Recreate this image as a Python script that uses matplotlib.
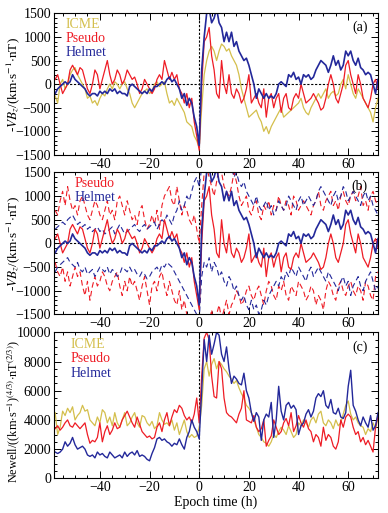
import numpy as np
import matplotlib
matplotlib.use("Agg")
import matplotlib.pyplot as plt
from matplotlib.ticker import MultipleLocator

plt.rcParams["font.family"] = ["Liberation Serif", "DejaVu Serif"]
plt.rcParams["mathtext.fontset"] = "stix"

# epoch hours, -58 .. 72
hours = list(range(-58, 73))

# panel (a): -V*Bz superposed epoch means
vbz_icme = [
    -250, -400, 0, 100, -100, 0, 200, 300, 350, 200,
    100, 0, -100, -300, -250, -400, -350, -450, -300, -200,
    -250, -100, 0, -100, 50, 0, -100, 0, 50, -100,
    -200, -400, -500, -400, -300, -200, -150, -100, -200, -150,
    0, 50, -50, 0, 50, -200, -400, -350, -450, -300,
    -400, -500, -600, -800, -850, -900, -1100, -1200, -1350, -500,
    200, 500, 700, 800, 700, 500, 700, 850, 800, 700,
    750, 600, 500, 400, 200, -100, -300, -500, -700, -650,
    -600, -550, -700, -800, -1000, -900, -1050, -900, -800, -700,
    -600, -500, -700, -650, -600, -550, -500, -450, -400, -300,
    -500, -600, -650, -500, -400, -300, -200, -300, -200, -100,
    -300, -200, -150, -250, -200, 0, 100, -100, 200, 0,
    -200, -300, -100, -200, -300, -400, -500, -600, -800, -500, -300,
]
vbz_pseudo = [
    100, 200, 0, -200, -100, 0, 300, 400, 300, 200,
    350, 300, 100, -100, -200, 0, 300, 200, -100, 100,
    300, 500, 200, 0, 100, 300, 200, 0, 100, 300,
    200, 100, 150, 0, -200, -100, 100, 0, -100, -200,
    -100, 100, 200, 100, 500, 300, 100, 250, 100, 200,
    -100, -200, -400, -200, -500, -300, -800, -1100, -1400, 0,
    900, 1000, 1200, 600, 300, -200, -300, 500, 0, -200,
    200, -200, -300, -100, -200, -400, -300, -100, 200, -400,
    -300, -200, -400, -500, -100, -700, -300, -200, -500, -300,
    -200, -600, -300, -200, -500, -550, -300, -200, -300, 0,
    -200, -400, -350, -300, -200, -300, -400, -550, -500, -300,
    0, 200, 0, -300, -400, -200, 0, 400, 500, 200,
    0, -200, 200, 0, -300, -400, -500, -300, 0, 100, -100,
]
vbz_helmet = [
    -200, -100, -50, 0, 50, 0, 50, 200, 100, 50,
    0, -50, -100, -200, -250, -200, -200, -250, -150, -200,
    -150, -200, -100, -150, -100, -200, -150, -200, -200, -250,
    -50, 0, -50, -100, -150, -200, -150, -200, -100, -150,
    -50, -50, 0, 50, 0, 100, 150, 50, 100, 0,
    -100, -300, -200, -450, -300, -400, -700, -900, -1300, 300,
    1000, 1500, 1600, 1300, 1400, 1600, 1300, 1200, 900, 1100,
    900, 1100, 800, 900, 700, 600, 500, 550, 400, 200,
    0, -300, -100, -200, -300, -200, -300, -250, -300, -200,
    0, 50, 0, -50, 200, 150, 250, 100, 150, 0,
    200, 150, 200, 100, 150, 300, 400, 500, 450, 400,
    250, 400, 600, 400, 500, 300, 400, 700, 600, 700,
    500, 400, 550, 350, 300, 200, 250, 200, 0, -200, 100,
]

# panel (b): mean +/- standard deviation envelopes
pseudo_upper = [
    700, 600, 900, 1100, 800, 1200, 900, 700, 800, 600,
    900, 1000, 800, 600, 500, 700, 900, 800, 600, 500,
    700, 900, 600, 700, 500, 900, 1000, 800, 600, 900,
    700, 500, 600, 400, 700, 800, 500, 300, 400, 600,
    400, 700, 300, 800, 1000, 1100, 1200, 900, 800, 1200,
    900, 600, 800, 700, 500, 400, 600, 300, 0, 800,
    1500, 1600, 1400, 1200, 1000, 1300, 1600, 1500, 1200, 1100,
    1000, 1200, 1500, 1300, 1000, 800, 900, 1000, 700, 600,
    800, 900, 600, 500, 800, 700, 900, 600, 800, 700,
    1000, 800, 700, 900, 800, 600, 1000, 900, 700, 800,
    900, 800, 700, 600, 800, 900, 1100, 800, 700, 900,
    1000, 1100, 800, 900, 700, 1000, 1100, 900, 800, 1000,
    1100, 900, 1000, 1200, 800, 900, 700, 1000, 1100, 900, 800,
]
helmet_upper = [
    300, 350, 400, 450, 400, 500, 550, 600, 500, 400,
    450, 350, 400, 300, 350, 250, 300, 350, 250, 300,
    200, 250, 300, 350, 200, 300, 400, 300, 200, 250,
    300, 350, 400, 300, 250, 350, 400, 300, 350, 400,
    450, 300, 400, 500, 450, 600, 500, 400, 600, 700,
    900, 700, 800, 1000, 900, 1100, 1300, 1400, 1200, 1600,
    1700, 1800, 1800, 1700, 1700, 1800, 1700, 1700, 1600, 1600,
    1500, 1600, 1400, 1500, 1300, 1200, 1300, 1100, 1000, 900,
    800, 1000, 800, 700, 800, 900, 700, 800, 600, 700,
    900, 800, 700, 800, 1000, 900, 800, 700, 900, 1000,
    800, 900, 1000, 900, 800, 900, 1100, 1200, 1100, 1000,
    900, 800, 1000, 1100, 900, 1000, 1200, 1100, 900, 1000,
    1100, 1000, 900, 800, 1000, 1100, 900, 1000, 800, 700, 600,
]
pseudo_lower = [
    -400, -600, -700, -500, -800, -600, -900, -700, -500, -700,
    -600, -900, -1100, -800, -1200, -900, -700, -900, -800, -600,
    -700, -900, -1000, -800, -700, -600, -900, -1100, -800, -1000,
    -700, -900, -800, -1000, -1200, -900, -700, -1000, -1300, -900,
    -800, -1000, -700, -600, -900, -1100, -800, -1000, -1200, -1300,
    -1000, -1400, -1200, -1500, -1600, -1800, -1700, -1800, -1900, -1700,
    -1600, -1500, -1700, -1400, -1800, -1500, -1300, -1600, -1400, -1200,
    -1500, -1300, -1200, -1000, -1100, -1300, -1200, -1000, -900, -1100,
    -1200, -1000, -900, -1100, -1300, -1000, -800, -900, -1100, -1200,
    -900, -1000, -800, -1100, -1200, -900, -1000, -1100, -800, -900,
    -1000, -1200, -1100, -900, -1000, -1300, -1100, -1200, -1400, -1000,
    -800, -900, -1100, -1200, -900, -800, -1000, -1100, -900, -800,
    -1000, -1100, -900, -1000, -1200, -800, -900, -1100, -1200, -700, -600,
]
helmet_lower = [
    -600, -500, -450, -400, -350, -300, -400, -450, -500, -400,
    -550, -600, -500, -650, -600, -550, -700, -600, -500, -550,
    -600, -500, -650, -550, -600, -700, -650, -500, -550, -600,
    -500, -600, -550, -650, -700, -600, -650, -750, -700, -600,
    -550, -500, -600, -450, -500, -400, -450, -500, -600, -700,
    -800, -900, -1000, -1100, -1200, -1300, -1400, -1500, -1600, -700,
    -400, -500, -300, -600, -400, -500, -700, -600, -800, -900,
    -700, -800, -1000, -900, -1100, -1200, -1100, -1300, -1400, -1200,
    -1400, -1300, -1500, -1400, -1200, -1300, -1100, -1000, -900, -800,
    -900, -700, -800, -600, -700, -500, -600, -700, -500, -600,
    -700, -800, -600, -500, -700, -600, -500, -600, -700, -800,
    -600, -700, -800, -900, -1000, -800, -700, -900, -800, -1100,
    -900, -800, -700, -900, -1000, -800, -700, -600, -800, -1000, -900,
]

# panel (c): Newell coupling function
newell_icme = [
    4500, 3000, 3500, 4600, 4300, 4800, 4500, 4900, 4000, 4300,
    4500, 5000, 4600, 4700, 4000, 3800, 3600, 4200, 3800, 4700,
    4500, 3800, 4200, 3600, 4500, 3800, 3500, 4000, 4500, 3600,
    3800, 4200, 4500, 3800, 3500, 4300, 4200, 3800, 3600, 3900,
    3400, 3600, 4500, 4000, 3700, 3800, 3600, 4000, 3300, 3800,
    3000, 3500, 4000, 3200, 2800, 3000, 2800, 2900, 3500, 5000,
    7500, 8000, 7000, 7800, 8200, 7500, 8000, 7800, 7500, 7300,
    7000, 6800, 6500, 6700, 6200, 5800, 5500, 5000, 4800, 4500,
    4000, 3500, 3000, 2800, 2500, 2400, 2200, 2500, 3000, 2800,
    3200, 3500, 3300, 3000, 3600, 3200, 2800, 3000, 3800, 3600,
    4000, 3800, 3500, 4000, 4200, 3800, 4400, 4600, 3800, 3600,
    4000, 3800, 3400, 4000, 3600, 3800, 4400, 5000, 5300, 4400,
    4000, 4200, 3800, 3600, 3500, 3000, 3400, 3200, 3800, 3400, 4200,
]
newell_pseudo = [
    3400, 3600, 3300, 3500, 3800, 4000, 3600, 3500, 3800, 3600,
    3400, 3600, 3800, 3000, 2400, 2600, 2500, 2800, 3800, 2500,
    3200, 3600, 3000, 3300, 3800, 3400, 3500, 4000, 4300, 4600,
    4200, 3800, 3500, 4200, 3700, 3200, 3000, 2800, 2900, 2700,
    2800, 3500, 3800, 3200, 4000, 4500, 3600, 4200, 4700, 4500,
    5000, 4800, 4300, 4000, 4200, 3800, 4400, 5500, 3800, 7000,
    9600, 10000, 9500, 7000, 5600, 5500, 8000, 7500, 5500, 4500,
    4300, 4200, 4000, 3800, 4400, 4800, 6000, 4000, 3900, 3800,
    4300, 3500, 3200, 3400, 4000, 2200, 2600, 2900, 4000, 3500,
    3000, 3200, 3800, 4100, 3600, 4500, 3200, 3600, 4300, 3800,
    3500, 4000, 3400, 3200, 2500, 3000, 2800, 2200, 3500, 2600,
    3000, 2800, 2200, 2000, 2500, 4000, 3500, 4200, 4400, 4200,
    3500, 3000, 3200, 2500, 2800, 2300, 2600, 2200, 1800, 3500, 4300,
]
newell_helmet = [
    1800, 1700, 1800, 2000, 2500, 2200, 2400, 2800, 2300, 2000,
    2100, 2200, 2000, 1600, 1500, 1600, 1400, 1800, 1600, 1700,
    1500, 1400, 1800, 1600, 1400, 1500, 1600, 1400, 1800, 1500,
    1700, 1800, 1600, 1900, 1500, 1600, 1500, 1300, 1200, 1700,
    2100, 2700, 2800, 2600, 2700, 2500, 2400, 2200, 2400, 2300,
    2700, 2300, 2000, 2800, 3200, 4000, 3500, 3200, 2700, 6000,
    9500, 8000, 9800, 8500, 9200, 10000, 9800, 8500, 8000, 9000,
    7500, 6500, 7000, 6800, 6500, 6400, 7200, 6000, 5500, 4500,
    3900, 4500, 4200, 2600, 4000, 4400, 4200, 5200, 2800, 4000,
    6300, 4600, 4000, 5000, 5200, 4800, 5000, 4700, 3000, 3600,
    3800, 4400, 4700, 4200, 4600, 5500, 5800, 5600, 6000, 5000,
    4800, 5400, 4500, 4400, 4800, 4200, 4100, 4500, 6300, 7400,
    5000, 4600, 4000, 3600, 4200, 3800, 3500, 4300, 3300, 3600, 4500,
]

C_ICME = "#d4bf4c"
C_PSEUDO = "#ee1c25"
C_HELMET = "#23289a"

XLIM = (-58.5, 71.8)
LABEL_X = -0.098


def style_axis(ax, ymajor, yminor):
    """Inward ticks on all four sides, like the IDL original."""
    ax.set_xlim(*XLIM)
    ax.xaxis.set_major_locator(MultipleLocator(20))
    ax.xaxis.set_minor_locator(MultipleLocator(5))
    ax.yaxis.set_major_locator(MultipleLocator(ymajor))
    ax.yaxis.set_minor_locator(MultipleLocator(yminor))
    ax.tick_params(which="both", direction="in", top=True, right=True,
                   labelsize=10, pad=2, width=0.7)
    ax.tick_params(which="major", length=5)
    ax.tick_params(which="minor", length=2.5)
    for side in ax.spines.values():
        side.set_linewidth(0.8)
    ax.axvline(0, color="black", ls=(0, (2, 1.5)), lw=0.8, zorder=1)
    ax.yaxis.set_label_coords(LABEL_X, 0.5)


def legend_text(ax, entries, x0=0.035):
    for k, (label, color) in enumerate(entries):
        ax.text(x0, 0.92 - k * 0.1, label, color=color, fontsize=10,
                transform=ax.transAxes, va="center", ha="left")


fig = plt.figure(figsize=(3.88, 5.13), dpi=100)
left, width = 0.139, 0.834
ax_a = fig.add_axes([left, 0.698, width, 0.276])
ax_b = fig.add_axes([left, 0.387, width, 0.277])
ax_c = fig.add_axes([left, 0.0676, width, 0.2846])

vbz_label = r"-$VB_z$/(km$\cdot$s$^{-1}$$\cdot$nT)"

# panel (a)
ax_a.plot(hours, vbz_icme, color=C_ICME, lw=0.9)
ax_a.plot(hours, vbz_pseudo, color=C_PSEUDO, lw=0.9)
ax_a.plot(hours, vbz_helmet, color=C_HELMET, lw=1.2)
ax_a.axhline(0, color="black", ls=(0, (2, 1.5)), lw=0.8, zorder=1)
ax_a.set_ylim(-1500, 1500)
style_axis(ax_a, 500, 100)
ax_a.set_ylabel(vbz_label, fontsize=9.5)
legend_text(ax_a, [("ICME", C_ICME), ("Pseudo", C_PSEUDO), ("Helmet", C_HELMET)])
ax_a.text(0.97, 0.9, "(a)", transform=ax_a.transAxes, ha="right", va="center", fontsize=10)

# panel (b)
dash = (0, (5, 3))
ax_b.plot(hours, pseudo_upper, color=C_PSEUDO, lw=0.8, ls=dash)
ax_b.plot(hours, pseudo_lower, color=C_PSEUDO, lw=0.8, ls=dash)
ax_b.plot(hours, helmet_upper, color=C_HELMET, lw=0.8, ls=dash)
ax_b.plot(hours, helmet_lower, color=C_HELMET, lw=0.8, ls=dash)
ax_b.plot(hours, vbz_pseudo, color=C_PSEUDO, lw=0.9)
ax_b.plot(hours, vbz_helmet, color=C_HELMET, lw=1.2)
ax_b.axhline(0, color="black", ls=(0, (2, 1.5)), lw=0.8, zorder=1)
ax_b.set_ylim(-1500, 1500)
style_axis(ax_b, 500, 100)
ax_b.set_ylabel(vbz_label, fontsize=9.5)
legend_text(ax_b, [("Pseudo", C_PSEUDO), ("Helmet", C_HELMET)], x0=0.065)
ax_b.text(0.97, 0.9, "(b)", transform=ax_b.transAxes, ha="right", va="center", fontsize=10)

# panel (c)
ax_c.plot(hours, newell_icme, color=C_ICME, lw=0.9)
ax_c.plot(hours, newell_pseudo, color=C_PSEUDO, lw=0.9)
ax_c.plot(hours, newell_helmet, color=C_HELMET, lw=1.0)
ax_c.set_ylim(0, 10000)
style_axis(ax_c, 2000, 500)
ax_c.set_ylabel(r"Newell/((km$\cdot$s$^{-1}$)$^{(4/3)}$$\cdot$nT$^{(2/3)}$)", fontsize=8.8)
ax_c.yaxis.set_label_coords(LABEL_X, 0.46)
ax_c.set_xlabel("Epoch time (h)", fontsize=10, labelpad=1)
legend_text(ax_c, [("ICME", C_ICME), ("Pseudo", C_PSEUDO), ("Helmet", C_HELMET)], x0=0.05)
ax_c.text(0.97, 0.9, "(c)", transform=ax_c.transAxes, ha="right", va="center", fontsize=10)

fig.savefig("out.png", dpi=100)
